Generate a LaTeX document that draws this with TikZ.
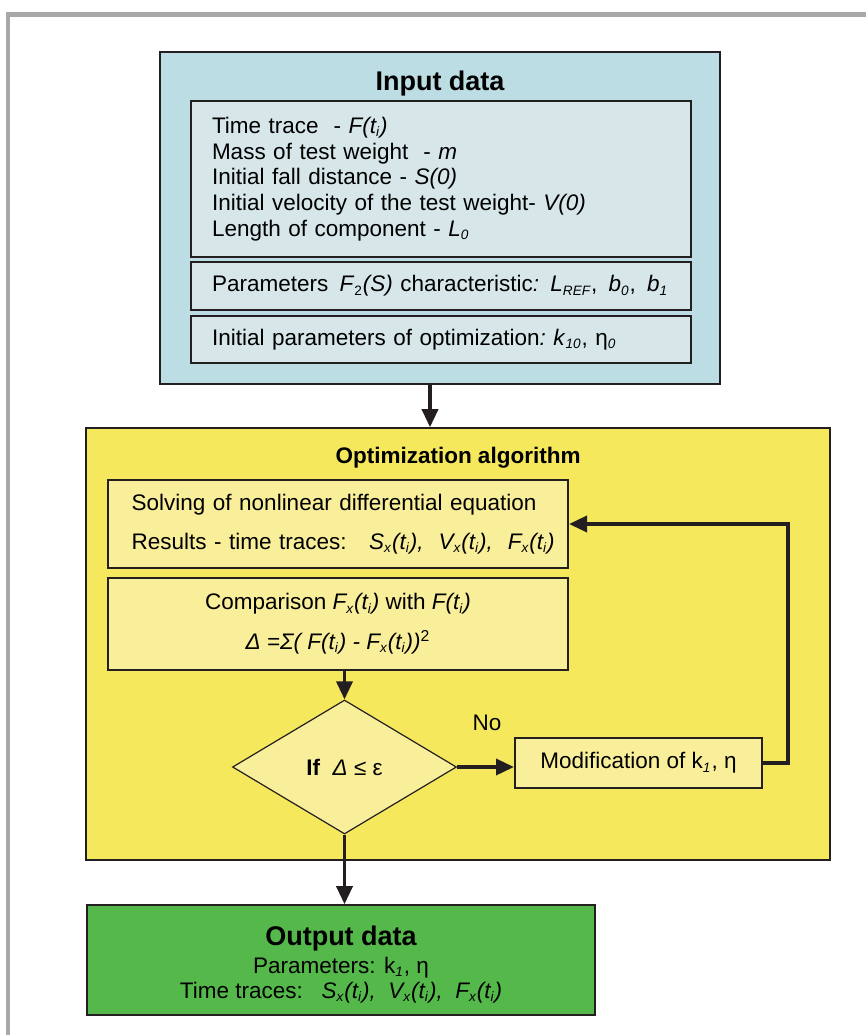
\documentclass[tikz,border=0pt]{standalone}
\usepackage{fontspec}
\setmainfont{Liberation Sans}
\usetikzlibrary{arrows.meta,positioning,calc,shapes.geometric}
\definecolor{frameGray}{RGB}{168,168,168}
\definecolor{inBlue}{RGB}{188,221,227}
\definecolor{inBlueLight}{RGB}{214,230,233}
\definecolor{optYellow}{RGB}{246,232,92}
\definecolor{optYellowLight}{RGB}{249,239,154}
\definecolor{outGreen}{RGB}{85,184,75}
\definecolor{lineDark}{RGB}{35,31,32}
\newcommand{\low}[1]{\textsubscript{\fontsize{6.8}{7}\selectfont #1}}
\newcommand{\ilow}[1]{\textsubscript{\fontsize{6.8}{7}\selectfont\itshape #1}}

\begin{document}
\begin{tikzpicture}[x=0.5pt, y=-0.5pt, font=\fontsize{11.25}{12.85}\selectfont,
    outerbox/.style={draw=lineDark, line width=0.8pt, inner sep=0pt},
    innerbox/.style={draw=lineDark, line width=1pt},
    flow/.style={draw=lineDark, line width=1.75pt, -{Triangle[length=9pt,width=8pt]}},
    ttl/.style={font=\bfseries\fontsize{13.5}{15}\selectfont}]

    \useasboundingbox (0,0) rectangle (866,1035);
    \draw[frameGray, line width=2.25pt] (8,1036) -- (8,14.5) -- (867,14.5);

    \node[outerbox, fill=inBlue, minimum width=280pt, minimum height=166pt] (inp) at (440,218) {};
    \node[ttl] (inpT) at (440,84) {Input data};
    \node[innerbox, fill=inBlueLight, minimum width=250pt, minimum height=78pt,
          text width=229pt, inner xsep=10.5pt, align=left] (inA) at (441,179)
          {Time trace\ \ - \textit{F(t\ilow{i})}\\
           Mass of test weight\ \ - \textit{m}\\
           Initial fall distance - \textit{S(0)}\\
           Initial velocity of the test weight- \textit{V(0)}\\
           Length of component - \textit{L}\ilow{0}};
    \node[innerbox, fill=inBlueLight, minimum width=250pt, minimum height=24pt,
          text width=229pt, inner xsep=10.5pt, align=left] (inB) at (441,286)
          {\hbox{Parameters\ \,\textit{F}\low{2}\textit{(S)} characteristic\textit{:} \textit{L}\ilow{REF},\ \,\textit{b}\ilow{0},\ \,\textit{b}\ilow{1}}};
    \node[innerbox, fill=inBlueLight, minimum width=250pt, minimum height=23.5pt,
          text width=229pt, inner xsep=10.5pt, align=left] (inC) at (441,339.5)
          {Initial parameters of optimization\textit{:}\ \textit{k}\ilow{10}, η\ilow{0}};

    \node[outerbox, fill=optYellow, minimum width=372pt, minimum height=216pt] (opt) at (458,644) {};
    \node[font=\bfseries\fontsize{11.25}{13}\selectfont] (optT) at (458,458) {Optimization algorithm};
    \node[innerbox, fill=optYellowLight, minimum width=230pt, minimum height=44pt,
          text width=206.3pt, inner xsep=11.85pt, align=left] (solve) at (338,524)
          {Solving of nonlinear differential equation\\[6.5pt]
           \hbox{Results - time traces:\ \ \ \textit{S\ilow{x}(t\ilow{i}),\ \ V\ilow{x}(t\ilow{i}),\ \ F\ilow{x}(t\ilow{i})}}};
    \node[innerbox, fill=optYellowLight, minimum width=230pt, minimum height=46pt,
          align=center] (comp) at (338,624)
          {Comparison \textit{F\ilow{x}(t\ilow{i})} with \textit{F(t\ilow{i})}\\[7pt]
           \textit{Δ =Σ( F(t\ilow{i}) - F\ilow{x}(t\ilow{i}))}\textsuperscript{2}};
    \node[diamond, draw=lineDark, line width=0.6pt, fill=optYellowLight, inner sep=0pt,
          minimum width=112pt, minimum height=67pt] (dia) at (344.5,767)
          {\textbf{If}\ \ \textit{Δ} ≤ ε};
    \node (no) at (487,723) {No};
    \node[innerbox, fill=optYellowLight, minimum width=123.5pt, minimum height=25pt] (mod) at (638.5,763)
          {Modification of k\ilow{1}, η};

    \node[outerbox, fill=outGreen, minimum width=254pt, minimum height=55pt] (out) at (341,960) {};
    \node[align=center, font=\fontsize{11.25}{12.3}\selectfont] (outT) at (341,964.5)
          {{\bfseries\fontsize{13.5}{15}\selectfont Output data}\\[1.5pt]
           Parameters: k\ilow{1}, η\\
           Time traces:\ \ \ \textit{S\ilow{x}(t\ilow{i}),\ \ V\ilow{x}(t\ilow{i}),\ \ F\ilow{x}(t\ilow{i})}};

    \coordinate (ia) at ($(inp.south)+(-10,0)$);
    \draw[flow] (ia) -- (ia |- opt.north);
    \draw[flow] (comp.south -| dia.north) -- (dia.north);
    \draw[flow] (dia.east) -- (dia.east -| mod.west);
    \draw[flow] (mod.east) -- ++(25,0) |- (solve.east);
    \draw[flow] (dia.south) -- (dia.south |- out.north);
\end{tikzpicture}
\end{document}
